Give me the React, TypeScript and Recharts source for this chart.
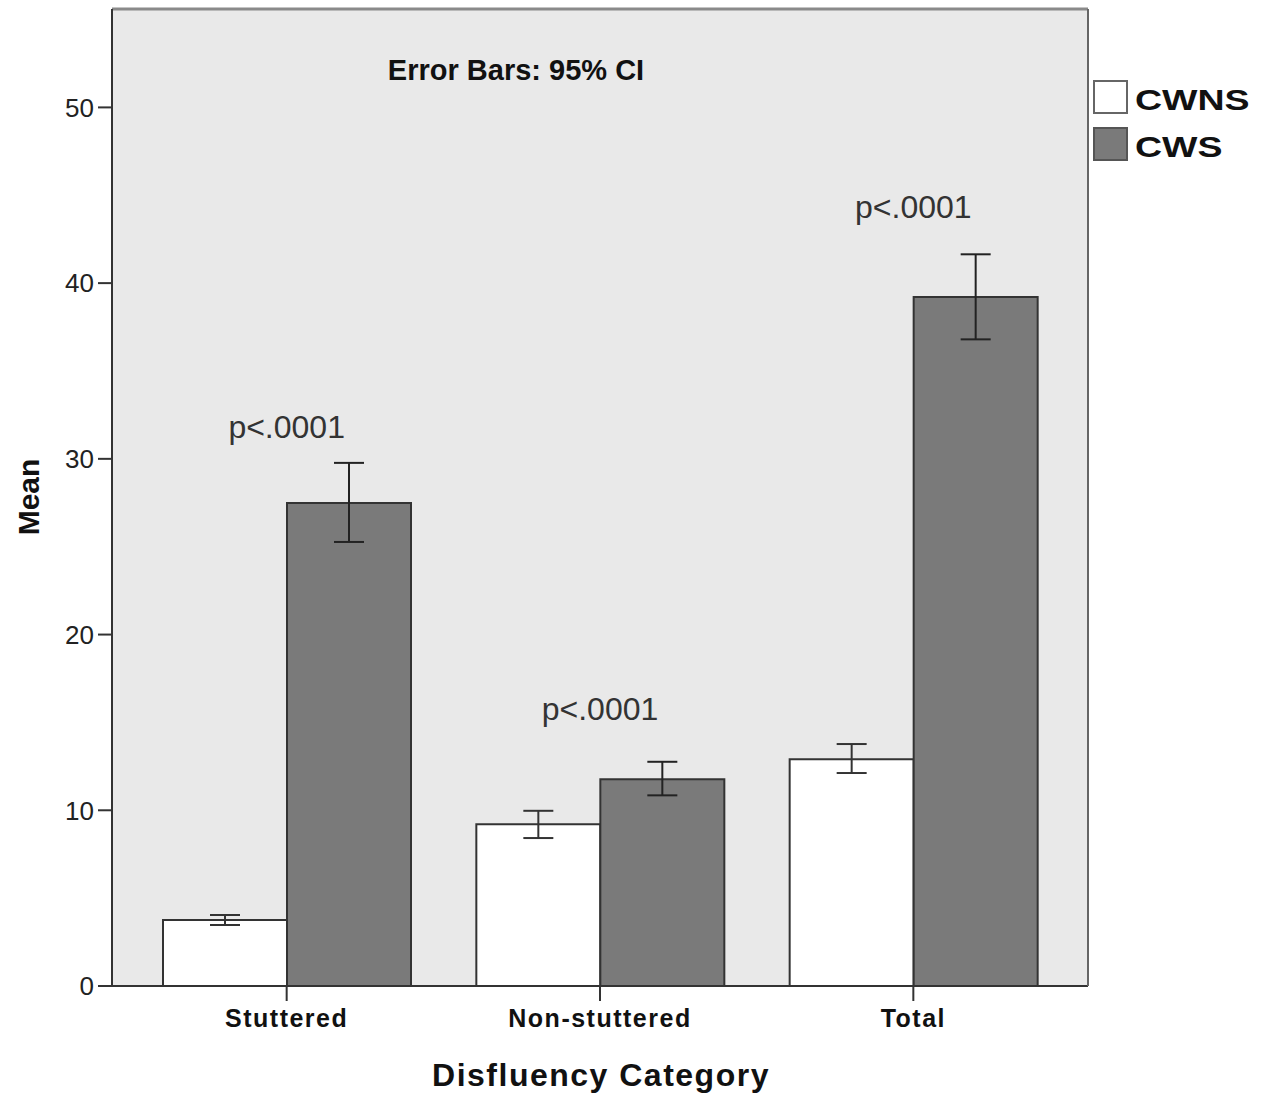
import React from 'react';
import { ComposedChart, Bar, XAxis, YAxis, CartesianGrid, ErrorBar, ReferenceDot } from 'recharts';

const categories = ['Stuttered', 'Non-stuttered', 'Total'];
const cwnsMean = [3.75, 9.21, 12.91];
const cwnsLower = [3.47, 8.42, 12.12];
const cwnsUpper = [4.04, 9.97, 13.77];
const cwsMean = [27.49, 11.77, 39.21];
const cwsLower = [25.27, 10.85, 36.8];
const cwsUpper = [29.77, 12.76, 41.64];
const pValueText = ['p<.0001', 'p<.0001', 'p<.0001'];
const pValueAt = [31.85, 15.78, 44.37];
const yTicks = [0, 10, 20, 30, 40, 50];
const yMax = 55.6;

const data = categories.map((name, i) => ({
  name,
  cwns: cwnsMean[i],
  cws: cwsMean[i],
  cwnsErr: [cwnsMean[i] - cwnsLower[i], cwnsUpper[i] - cwnsMean[i]],
  cwsErr: [cwsMean[i] - cwsLower[i], cwsUpper[i] - cwsMean[i]],
}));

const series = [
  { key: 'cwns', name: 'CWNS', fill: '#ffffff', border: '#666' },
  { key: 'cws', name: 'CWS', fill: '#7a7a7a', border: '#555' },
];

const font = "Arial, 'Liberation Sans', sans-serif";

const CategoryTick = (props: any) => {
  const { x, y, payload } = props;
  return (
    <text x={x} y={y} dy={18} textAnchor="middle" fontFamily={font} fontWeight="bold"
      fontSize={25} letterSpacing={1.5} fill="#111">
      {payload.value}
    </text>
  );
};

export default function App() {
  return (
    <div style={{ position: 'absolute', left: 0, top: 0, width: 1269, height: 1098, background: '#fff' }}>
      <ComposedChart width={1269} height={1098} data={data}
        margin={{ top: 8, right: 180, bottom: 0, left: 0 }} barGap={0}>
        <CartesianGrid fill="#e9e9e9" stroke="none" horizontal={false} vertical={false} />
        <XAxis dataKey="name" height={112} padding={{ left: 18, right: 18 }} tickSize={15} tickMargin={8}
          tick={<CategoryTick />} axisLine={{ stroke: '#333', strokeWidth: 2 }}
          tickLine={{ stroke: '#333', strokeWidth: 2 }} />
        <XAxis xAxisId="top" dataKey="name" orientation="top" height={1} tick={false} tickLine={false}
          axisLine={{ stroke: '#8a8a8a', strokeWidth: 3 }} />
        <YAxis width={112} domain={[0, yMax]} ticks={yTicks} tickSize={14} tickMargin={4}
          tick={{ fontSize: 26, fill: '#222', fontFamily: font }}
          axisLine={{ stroke: '#333', strokeWidth: 2 }} tickLine={{ stroke: '#333', strokeWidth: 2 }} />
        <YAxis yAxisId="right" orientation="right" width={1} domain={[0, yMax]} tick={false}
          tickLine={false} axisLine={{ stroke: '#666', strokeWidth: 2 }} />
        <Bar dataKey="cwns" name="CWNS" fill="#ffffff" stroke="#333" strokeWidth={2} barSize={124}
          isAnimationActive={false}>
          <ErrorBar dataKey="cwnsErr" width={15} strokeWidth={2} stroke="#333" direction="y" />
        </Bar>
        <Bar dataKey="cws" name="CWS" fill="#7a7a7a" stroke="#333" strokeWidth={2} barSize={124}
          isAnimationActive={false}>
          <ErrorBar dataKey="cwsErr" width={15} strokeWidth={2} stroke="#222" direction="y" />
        </Bar>
        {categories.map((c, i) => (
          <ReferenceDot key={c} x={c} y={pValueAt[i]} r={0} fill="none" stroke="none"
            label={{ value: pValueText[i], position: 'center', fontSize: 32, fill: '#333', fontFamily: font }} />
        ))}
        <text x={516} y={80} textAnchor="middle" fontFamily={font} fontWeight="bold" fontSize={29}
          fill="#111">Error Bars: 95% CI</text>
        <text x={28} y={497} transform="rotate(-90 28 497)" textAnchor="middle" dominantBaseline="central"
          fontFamily={font} fontWeight="bold" fontSize={30} fill="#111">Mean</text>
        <text x={601} y={1086} textAnchor="middle" fontFamily={font} fontWeight="bold" fontSize={32}
          letterSpacing={1.5} fill="#111">Disfluency Category</text>
      </ComposedChart>
      <div style={{ position: 'absolute', left: 1093, top: 79, fontFamily: font }}>
        {series.map((s) => (
          <div key={s.key} style={{ display: 'flex', alignItems: 'center', height: 35, marginBottom: 12 }}>
            <div style={{ width: 31, height: 30, background: s.fill, border: `2px solid ${s.border}` }} />
            <span style={{ marginLeft: 7, marginTop: 6, fontSize: 30, fontWeight: 'bold', color: '#111',
              display: 'inline-block', transform: 'scaleX(1.25)', transformOrigin: 'left center' }}>
              {s.name}
            </span>
          </div>
        ))}
      </div>
    </div>
  );
}
